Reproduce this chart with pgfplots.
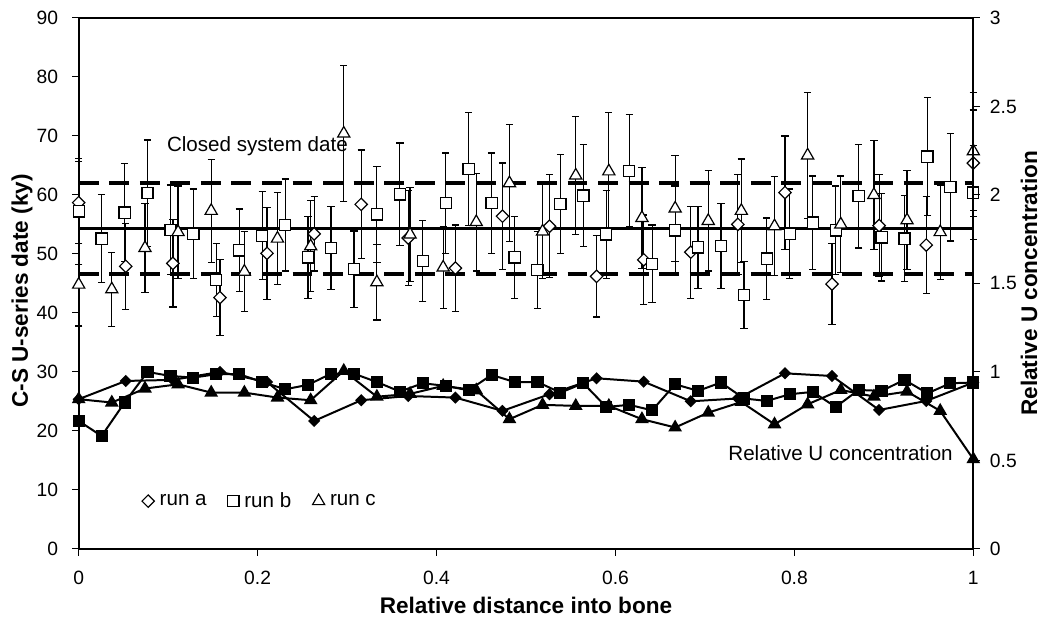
\documentclass[border=0pt]{standalone}
\usepackage{fontspec}
\setmainfont{Liberation Sans}
\usepackage{pgfplots}
\usepackage{pgfplotstable}
\pgfplotsset{compat=1.18}

% x = relative distance, y = date (ky), e = error, u = relative U
\pgfplotstableread{
x y e u
0 58.7 7.0 0.846
0.0526 47.9 7.3 0.949
0.1053 48.4 7.4 0.955
0.1579 42.6 6.4 1.000
0.2105 50.1 7.8 0.943
0.2632 53.4 6.3 0.723
0.3158 58.4 9.2 0.840
0.3684 52.7 8.0 0.864
0.4211 47.6 7.3 0.855
0.4737 56.4 9.0 0.780
0.5263 54.7 8.7 0.874
0.5789 46.2 6.9 0.964
0.6316 49.0 7.6 0.945
0.6842 50.3 7.8 0.834
0.7368 55.0 8.5 0.850
0.7895 60.4 9.6 0.992
0.8421 44.9 6.9 0.977
0.8947 54.8 8.6 0.785
0.9474 51.5 8.2 0.836
1 65.4 9.0 0.940
}\runa

\pgfplotstableread{
x y e u
0 57.2 9.0 0.723
0.0256 52.6 7.5 0.638
0.0513 57.0 8.3 0.827
0.0769 60.3 9.0 1.000
0.1026 54.1 7.6 0.977
0.1282 53.4 7.6 0.968
0.1538 45.6 6.2 0.987
0.1795 50.6 7.0 0.987
0.2051 53.1 7.5 0.943
0.2308 54.9 7.8 0.902
0.2564 49.4 7.0 0.927
0.2821 51.0 7.0 0.990
0.3077 47.4 6.5 0.990
0.3333 56.7 8.1 0.943
0.3590 60.1 8.7 0.889
0.3846 48.8 6.8 0.936
0.4103 58.6 8.5 0.921
0.4359 64.4 9.6 0.896
0.4615 58.6 8.5 0.983
0.4872 49.4 7.0 0.943
0.5128 47.3 6.5 0.943
0.5385 58.5 8.4 0.883
0.5641 59.9 8.7 0.936
0.5897 53.3 7.5 0.802
0.6154 64.1 9.5 0.814
0.6410 48.3 6.6 0.783
0.6667 54.0 7.5 0.930
0.6923 51.1 7.0 0.893
0.7179 51.3 7.2 0.940
0.7436 43.0 5.7 0.850
0.7692 49.2 6.9 0.836
0.7949 53.4 7.6 0.874
0.8205 55.3 7.9 0.887
0.8462 54.0 7.5 0.802
0.8718 59.8 8.8 0.898
0.8974 52.8 7.4 0.893
0.9231 52.6 7.3 0.955
0.9487 66.5 10.0 0.879
0.9744 61.3 9.1 0.936
1 60.4 8.0 0.940
}\runb

\pgfplotstableread{
x y e u
0 44.8 7.0 0.846
0.0370 44.0 6.3 0.827
0.0741 51.0 7.5 0.906
0.1111 53.7 7.8 0.930
0.1481 57.3 8.7 0.883
0.1852 47.0 6.8 0.883
0.2222 52.6 7.8 0.855
0.2593 51.3 7.7 0.840
0.2963 70.4 11.5 1.006
0.3333 45.2 6.4 0.860
0.3704 53.3 8.0 0.876
0.4074 47.7 7.0 0.921
0.4444 55.4 8.3 0.896
0.4815 62.0 9.9 0.733
0.5185 53.8 8.0 0.814
0.5556 63.3 10.0 0.808
0.5926 64.0 10.0 0.808
0.6296 56.1 8.6 0.733
0.6667 57.7 9.0 0.686
0.7037 55.6 8.5 0.770
0.7407 57.3 8.8 0.830
0.7778 54.7 8.4 0.704
0.8148 66.7 10.7 0.817
0.8519 55.0 8.2 0.898
0.8889 60.0 9.2 0.861
0.9259 55.7 8.4 0.889
0.9630 53.7 8.0 0.780
1 67.4 10.0 0.507
}\runc

\pgfplotsset{
  common/.style={
    scale only axis, width=673.5pt, height=399.75pt,
    xmin=0, xmax=1, clip=false,
    tick align=outside, major tick length=5pt,
    tick style={black, line width=0.8pt},
    /pgf/number format/assume math mode=true,
    label style={font=\fontsize{17}{20}\selectfont\bfseries},
  },
  % error bars only, drawn first so that the open marks sit on top
  errs/.style={forget plot, draw=none, no markers,
    error bars/y dir=both, error bars/y explicit,
    error bars/error mark=|,
    error bars/error bar style={draw=black, line width=0.9pt},
    error bars/error mark options={draw=black, line width=0.9pt, mark size=2.75pt}},
  openmk/.style={only marks, draw=black, fill=white},
}

\begin{document}
\begin{tikzpicture}
\useasboundingbox (-59.25pt,-57.75pt) rectangle (732.75pt,413.25pt);
\begin{axis}[
    common,
    ymin=0, ymax=90, ytick={0,10,...,90},
    xtick={0,0.2,...,1},
    xtick pos=left, ytick pos=left,
    xticklabel style={font=\fontsize{14.5}{17}\selectfont, yshift=-8pt},
    yticklabel style={font=\fontsize{14.5}{17}\selectfont, xshift=-7pt},
    axis line style={line width=1.5pt},
    xlabel={Relative distance into bone},
    ylabel={C-S U-series date (ky)},
    xlabel style={at={([yshift=-42.75pt]axis description cs:0.5,0)}, anchor=center},
    ylabel style={at={([xshift=-42.75pt]axis description cs:0,0.486)}, anchor=center},
    legend columns=3,
    legend style={draw=none, fill=none, at={(axis cs:0.066,8.1)}, anchor=west,
      font=\fontsize{15.5}{18}\selectfont,
      /tikz/every odd column/.append style={column sep=2pt},
      /tikz/every even column/.append style={column sep=14pt}},
    legend image code/.code={\draw[#1] plot coordinates {(0.12cm,0cm)};},
  ]
  \addplot[forget plot, black, line width=2pt] coordinates {(0,54.3) (1,54.3)};
  \addplot[forget plot, black, line width=3pt, dash pattern=on 15pt off 8pt] coordinates {(0,62.0) (1,62.0)};
  \addplot[forget plot, black, line width=3pt, dash pattern=on 15pt off 8pt] coordinates {(0,46.6) (1,46.6)};

  \addplot[errs] table[x=x, y=y, y error=e] {\runa};
  \addplot[errs] table[x=x, y=y, y error=e] {\runb};
  \addplot[errs] table[x=x, y=y, y error=e] {\runc};

  \addplot[openmk, mark=square*, mark size=3.3pt,
    mark options={fill=white, draw=black, line width=0.9pt, rotate=45}]
    table[x=x, y=y] {\runa};
  \addlegendentry{run a}
  \addplot[openmk, mark=square*, mark size=4.2pt,
    mark options={fill=white, draw=black, line width=0.9pt}]
    table[x=x, y=y] {\runb};
  \addlegendentry{run b}
  \addplot[openmk, mark=triangle*, mark size=5.3pt,
    mark options={fill=white, draw=black, line width=0.9pt}]
    table[x=x, y=y] {\runc};
  \addlegendentry{run c}

  \node[anchor=west, font=\fontsize{15.5}{18}\selectfont] at (axis cs:0.0935,68.3) {Closed system date};
  \node[anchor=west, font=\fontsize{15.5}{18}\selectfont] at (axis cs:0.721,16.2) {Relative U concentration};
\end{axis}

\begin{axis}[
    common,
    ymin=0, ymax=3, ytick={0,0.5,...,3},
    axis x line=none, axis y line*=right, ytick pos=right,
    yticklabel style={font=\fontsize{14.5}{17}\selectfont, xshift=4pt},
    axis line style={line width=1.5pt},
    ylabel={Relative U concentration},
    ylabel style={at={([xshift=42pt]axis description cs:1,0.5)}, anchor=center},
  ]
  \addplot[black, line width=1.5pt, mark=square*, mark size=2.5pt, mark options={rotate=45}]
    table[x=x, y=u] {\runa};
  \addplot[black, line width=1.5pt, mark=square*, mark size=3.8pt]
    table[x=x, y=u] {\runb};
  \addplot[black, line width=1.5pt, mark=triangle*, mark size=4.5pt]
    table[x=x, y=u] {\runc};
\end{axis}
\end{tikzpicture}
\end{document}
